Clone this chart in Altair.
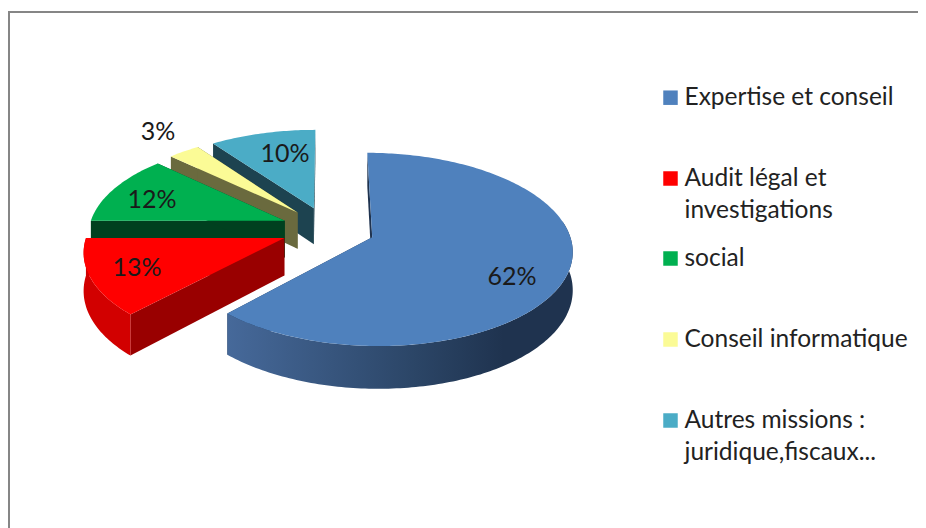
import numpy as np
import pandas as pd
import altair as alt

# --- chart values ---
categories = ["Expertise et conseil", "Audit légal et investigations", "social",
              "Conseil informatique", "Autres missions : juridique,fiscaux..."]
shares = [62, 13, 12, 3, 10]
pct_labels = ["62%", "13%", "12%", "3%", "10%"]
legend_lines = [["Expertise et conseil"], ["Audit légal et", "investigations"], ["social"],
                ["Conseil informatique"], ["Autres missions :", "juridique,fiscaux..."]]

# --- styling ---
top_colors = ["#4F81BD", "#FF0000", "#00B050", "#FBFB96", "#4BACC6"]
wall_colors = ["#1F334F", "#990000", "#00401F", "#6A6A3E", "#1D4350"]

# --- pie projection (tilted, slightly perspective disc) ---
CX, CY, R, H, D, K, EXPLODE = 328.0, 229.0, 196.0, 93.0, 37.0, 0.124, 0.24
FONT = "Lato"


def project(u, v, z):
    w = 1 - K * v
    return CX + R * u / w, CY + (H * v + D * z) / w


def arc(t0, t1, ox, oy, z):
    ts = np.radians(np.linspace(t0, t1, max(3, int(abs(t1 - t0)) + 2)))
    return [project(ox + np.sin(t), oy - np.cos(t), z) for t in ts]


X = alt.X("x:Q", scale=alt.Scale(domain=[8, 918], range=[0, 910]), axis=None)
Y = alt.Y("y:Q", scale=alt.Scale(domain=[8, 528], range=[0, 520]), axis=None)


def poly(points, fill):
    df = pd.DataFrame(points, columns=["x", "y"])
    df["i"] = range(len(df))
    return alt.Chart(df).mark_line(fill=fill, strokeWidth=0, clip=False).encode(x=X, y=Y, order="i:Q")


main_wall = alt.LinearGradient(
    gradient="linear", x1=0, x2=1, y1=0, y2=0,
    stops=[alt.GradientStop(offset=0, color="#46699A"),
           alt.GradientStop(offset=0.55, color="#2B4566"),
           alt.GradientStop(offset=0.8, color="#1F334F"),
           alt.GradientStop(offset=1, color="#1F334F")],
)
outer_fill = {0: main_wall, 1: "#D20000"}

angles = np.cumsum([0] + shares) / sum(shares) * 360
layers = []
# painter's order: back slices first, the large front slice last
for i in [4, 3, 2, 1, 0]:
    t0, t1 = angles[i], angles[i + 1]
    mid = np.radians((t0 + t1) / 2)
    ox, oy = EXPLODE * np.sin(mid), -EXPLODE * np.cos(mid)
    a0, a1 = project(ox, oy, 0), project(ox, oy, 1)
    for t in (t0, t1):
        e0 = project(ox + np.sin(np.radians(t)), oy - np.cos(np.radians(t)), 0)
        e1 = project(ox + np.sin(np.radians(t)), oy - np.cos(np.radians(t)), 1)
        layers.append(poly([a0, e0, e1, a1], wall_colors[i]))
    if i in outer_fill:
        s0, s1 = max(t0, 80), min(t1, 270)
        layers.append(poly(arc(s0, s1, ox, oy, 0) + arc(s1, s0, ox, oy, 1), outer_fill[i]))
    layers.append(poly([a0] + arc(t0, t1, ox, oy, 0), top_colors[i]))

# frame
frame_color = "#868686"
layers.append(alt.Chart(pd.DataFrame({"x": [9], "y": [12], "y2": [528]})).mark_rule(
    color=frame_color, strokeWidth=2).encode(x=X, y=Y, y2="y2:Q"))
layers.append(alt.Chart(pd.DataFrame({"x": [8], "x2": [918], "y": [12]})).mark_rule(
    color=frame_color, strokeWidth=2).encode(x=X, x2="x2:Q", y=Y))

# percentage labels
label_x = [512, 137, 152, 158, 285]
label_y = [277, 268, 200, 132, 154]
layers.append(alt.Chart(pd.DataFrame({"x": label_x, "y": label_y, "t": pct_labels})).mark_text(
    font=FONT, fontSize=25, color="#1A1A1A", align="center", baseline="middle").encode(x=X, y=Y, text="t:N"))

# legend
row_y = [97.7, 178.5, 258.5, 339.5, 420.5]
line_step = 32
sym = pd.DataFrame({"x": [670.5] * 5, "y": row_y, "c": top_colors})
layers.append(alt.Chart(sym).mark_square(size=210, opacity=1, strokeWidth=0).encode(
    x=X, y=Y, fill=alt.Fill("c:N", scale=None)))
rows = [{"x": 684.5, "y": ry + j * line_step, "t": line}
        for ry, lines in zip(row_y, legend_lines) for j, line in enumerate(lines)]
layers.append(alt.Chart(pd.DataFrame(rows)).mark_text(
    font=FONT, fontSize=24.5, color="#222222", align="left", baseline="middle").encode(x=X, y=Y, text="t:N"))

chart = alt.layer(*layers).properties(
    width=910, height=520, padding=0, background="white",
    autosize=alt.AutoSizeParams(type="none"),
).configure_view(stroke=None)

chart.save("out.html", embed_options={"renderer": "svg", "actions": False})
